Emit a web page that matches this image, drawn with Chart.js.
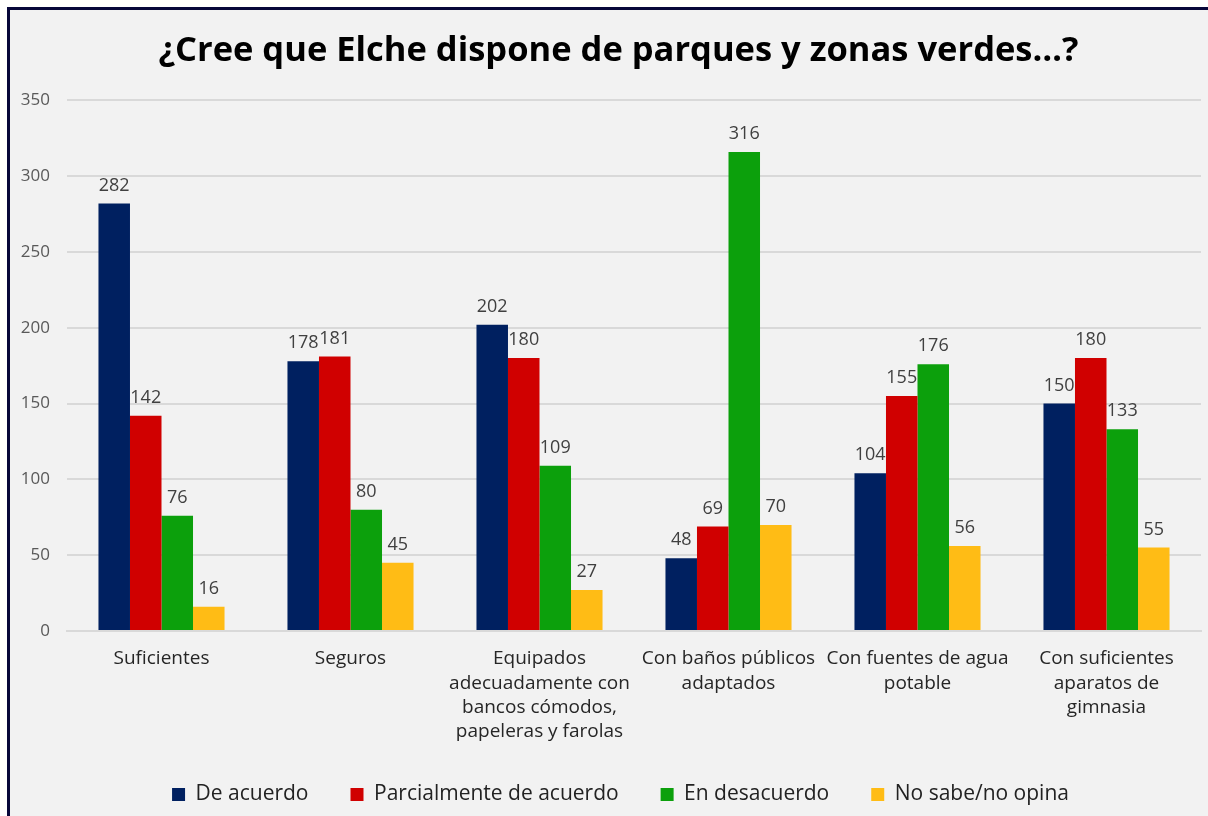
<!DOCTYPE html>
<html>
<head>
<meta charset="utf-8">
<script src="https://cdn.jsdelivr.net/npm/chart.js@4/dist/chart.umd.min.js"></script>
<style>
  html, body { margin: 0; padding: 0; background: #fff; overflow: hidden; }
  #frame { position: absolute; left: 7px; top: 7px; width: 1300px; height: 900px;
           background: #f2f2f2; border-left: 3px solid #07073a; border-top: 3px solid #07073a; }
  #chart { position: absolute; left: 0; top: 0; }
</style>
</head>
<body>
<div id="frame"></div>
<canvas id="chart" width="1208" height="816"></canvas>
<script>
// categories (wrapped the way the original labels wrap)
var categories = [
  ["Suficientes"],
  ["Seguros"],
  ["Equipados", "adecuadamente con", "bancos cómodos,", "papeleras y farolas"],
  ["Con baños públicos", "adaptados"],
  ["Con fuentes de agua", "potable"],
  ["Con suficientes", "aparatos de", "gimnasia"]
];
var deAcuerdo = [282, 178, 202, 48, 104, 150];
var parcialmente = [142, 181, 180, 69, 155, 180];
var enDesacuerdo = [76, 80, 109, 316, 176, 133];
var noSabe = [16, 45, 27, 70, 56, 55];

var FONT = "'Open Sans', 'DejaVu Sans', sans-serif";

// draw the value above every bar
var valueLabels = {
  id: 'valueLabels',
  afterDatasetsDraw: function (chart) {
    var ctx = chart.ctx;
    ctx.save();
    ctx.font = "18px " + FONT;
    ctx.fillStyle = "#404040";
    ctx.textAlign = "center";
    ctx.textBaseline = "bottom";
    chart.data.datasets.forEach(function (ds, i) {
      chart.getDatasetMeta(i).data.forEach(function (bar, j) {
        ctx.fillText(ds.data[j], bar.x, bar.y - 9);
      });
    });
    ctx.restore();
  }
};

// the original frame is a bit wider than the window, so title and legend sit right of centre
var shiftBoxes = {
  id: 'shiftBoxes',
  afterLayout: function (chart) {
    chart.titleBlock.left += 18; chart.titleBlock.right += 18;
    chart.legend.left += 20; chart.legend.right += 20;
  }
};

new Chart(document.getElementById('chart'), {
  type: 'bar',
  data: {
    labels: categories,
    datasets: [
      { label: 'De acuerdo', data: deAcuerdo, backgroundColor: '#002060' },
      { label: 'Parcialmente de acuerdo', data: parcialmente, backgroundColor: '#d00000' },
      { label: 'En desacuerdo', data: enDesacuerdo, backgroundColor: '#0ca00c' },
      { label: 'No sabe/no opina', data: noSabe, backgroundColor: '#ffbc15' }
    ]
  },
  options: {
    responsive: false,
    animation: false,
    layout: { padding: { left: 0, right: 7, top: 0, bottom: 1 } },
    datasets: { bar: { categoryPercentage: 0.667, barPercentage: 1 } },
    plugins: {
      title: {
        display: true,
        text: '¿Cree que Elche dispone de parques y zonas verdes…?',
        color: '#000',
        font: { family: FONT, size: 34.5, weight: 'bold' },
        padding: { top: 30, bottom: 29 }
      },
      legend: {
        position: 'bottom',
        labels: {
          boxWidth: 13, boxHeight: 13, padding: 42,
          color: '#222', font: { family: FONT, size: 21 }
        }
      },
      tooltip: { enabled: false }
    },
    scales: {
      x: {
        grid: { display: false, drawTicks: false },
        border: { display: true, color: '#d9d9d9', width: 2 },
        ticks: { color: '#262626', padding: 16, font: { family: FONT, size: 19, lineHeight: 1.27 }, maxRotation: 0, autoSkip: false },
        afterFit: function (scale) { scale.height = 111; }
      },
      y: {
        min: 0, max: 350,
        ticks: { stepSize: 50, color: '#595959', padding: 17, font: { family: FONT, size: 17 } },
        grid: { color: '#d9d9d9', lineWidth: 2, drawTicks: false },
        border: { display: false },
        afterFit: function (scale) { scale.width = 67; }
      }
    }
  },
  plugins: [valueLabels, shiftBoxes]
});
</script>
</body>
</html>
